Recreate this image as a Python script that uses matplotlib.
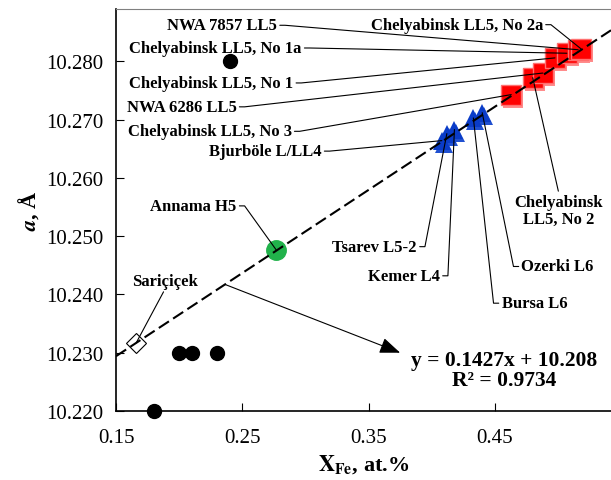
import matplotlib
matplotlib.use('Agg')
import matplotlib.pyplot as plt
from matplotlib.transforms import offset_copy

plt.rcParams['font.family'] = ['Liberation Serif', 'DejaVu Serif']
plt.rcParams['mathtext.fontset'] = 'stix'

# ---- data ----
black_x = [0.24, 0.20, 0.21, 0.23, 0.18]
black_y = [10.280, 10.230, 10.230, 10.230, 10.220]

sari_x, sari_y = 0.166, 10.2317
annama_x, annama_y = 0.277, 10.2476

tri_labels = ['Bjurböle L/LL4', 'Tsarev L5-2', 'Kemer L4', 'Bursa L6', 'Ozerki L6']
tri_x = [0.408, 0.412, 0.418, 0.433, 0.440]
tri_y = [10.2664, 10.2676, 10.2683, 10.2703, 10.2712]

sq_labels = ['Chelyabinsk LL5, No 3', 'Chelyabinsk LL5, No 2', 'NWA 6286 LL5',
             'Chelyabinsk LL5, No 1', 'Chelyabinsk LL5, No 1a', 'NWA 7857 LL5',
             'Chelyabinsk LL5, No 2a']
sq_x = [0.463, 0.480, 0.488, 0.4976, 0.507, 0.516, 0.518]
sq_y = [10.2743, 10.2772, 10.2780, 10.2806, 10.2814, 10.2820, 10.2822]

slope, intercept, r2 = 0.1427, 10.208, 0.9734

xticks = [0.15, 0.25, 0.35, 0.45]
yticks = [10.220, 10.230, 10.240, 10.250, 10.260, 10.270, 10.280]

# label anchor: text position, ha, relpos of leader, direction of the small hook
label_pos = {
    'NWA 7857 LL5': ((0.2775, 10.2862), 'right', (1, 0.5), 0),
    'Chelyabinsk LL5, No 1a': ((0.2970, 10.2823), 'right', (1, 0.5), 0),
    'Chelyabinsk LL5, No 1': ((0.2904, 10.2763), 'right', (1, 0.5), 0),
    'NWA 6286 LL5': ((0.2455, 10.2722), 'right', (1, 0.5), 0),
    'Chelyabinsk LL5, No 3': ((0.2891, 10.2680), 'right', (1, 0.5), 0),
    'Bjurböle L/LL4': ((0.3128, 10.2646), 'right', (1, 0.5), 0),
    'Chelyabinsk LL5, No 2a': ((0.4881, 10.2863), 'right', (1, 0.5), 0),
    'Chelyabinsk LL5, No 2': ((0.5008, 10.2544), 'center', (0.5, 1), None),
    'Tsarev L5-2': ((0.3883, 10.2482), 'right', (1, 0.5), 0),
    'Kemer L4': ((0.4065, 10.2432), 'right', (1, 0.5), 0),
    'Bursa L6': ((0.4553, 10.2385), 'left', (0, 0.5), 180),
    'Ozerki L6': ((0.4711, 10.2448), 'left', (0, 0.5), 180),
}

fig = plt.figure(figsize=(6.11, 4.81), dpi=100)
ax = fig.add_axes([0.1899, 0.1435, 0.8101, 0.8358])
ax.set_xlim(0.15, 0.542)
ax.set_ylim(10.220, 10.289)

shadow = offset_copy(ax.transData, fig=fig, x=2, y=-3, units='dots')

# markers
ax.plot(black_x, black_y, 'o', color='black', ms=10, zorder=3, clip_on=False)
ax.plot(sari_x, sari_y, 'D', mfc='white', mec='black', mew=0.8, ms=10, zorder=3)
ax.plot(annama_x, annama_y, 'o', color='#21b24b', ms=14, zorder=3)

ax.plot(sq_x, sq_y, 's', color='#ff8c8c', ms=14, mew=0, transform=shadow, zorder=3)
ax.plot(sq_x, sq_y, 's', mfc='#ff0000', mec='#ff7070', mew=1, ms=14, zorder=3)
ax.plot(tri_x, tri_y, '^', color='#2050d0', ms=13, mew=0, transform=shadow, zorder=3)
ax.plot(tri_x, tri_y, '^', color='#0a3cc8', ms=13, mew=0, zorder=3)

# regression line
lx = [0.15, 0.542]
ly = [slope * v + intercept for v in lx]
ax.plot(lx, ly, color='black', lw=1.5, dashes=(5.8, 2.4), zorder=4)

bold = dict(fontsize=12, fontweight='bold')


def leader(relpos, hook):
    d = dict(arrowstyle='-', lw=0.8, color='black', shrinkA=0, shrinkB=0, relpos=relpos)
    if hook is not None:
        d['connectionstyle'] = 'arc,angleA=%d,armA=8,armB=0,rad=0' % hook
    return d


for names, xs, ys in [(sq_labels, sq_x, sq_y), (tri_labels, tri_x, tri_y)]:
    for name, px, py in zip(names, xs, ys):
        (tx, ty), ha, rp, hook = label_pos[name]
        text = 'Chelyabinsk\nLL5, No 2' if name == 'Chelyabinsk LL5, No 2' else name
        ax.annotate(text, xy=(px, py), xytext=(tx, ty), ha=ha, va='center',
                    multialignment='center', linespacing=1.1,
                    arrowprops=leader(rp, hook), zorder=5, **bold)

ax.annotate('Annama H5', xy=(annama_x, annama_y), xytext=(0.2455, 10.2552),
            ha='right', va='center', arrowprops=leader((1, 0.5), 0),
            zorder=5, **bold)
ax.annotate('Sariçiçek', xy=(sari_x, sari_y), xytext=(0.1888, 10.2423),
            ha='center', va='center', arrowprops=leader((0.5, 0), None),
            zorder=5, **bold)

# equation and arrow
ax.annotate('', xy=(0.375, 10.2300), xytext=(0.2363, slope * 0.2363 + intercept),
            arrowprops=dict(arrowstyle='-|>,head_length=0.9,head_width=0.35',
                            lw=0.8, color='black', shrinkA=0, shrinkB=0,
                            mutation_scale=14), zorder=5)
ax.text(0.4572, 10.2271, 'y = %.4fx + %.3f\nR² = %.4f' % (slope, intercept, r2),
        ha='center', va='center', fontsize=15.5, fontweight='bold', linespacing=1.0)

# axes styling
ax.set_xticks(xticks)
ax.set_xticklabels(['%.2f' % v for v in xticks])
ax.set_yticks(yticks)
ax.set_yticklabels(['%.3f' % v for v in yticks])
ax.tick_params(direction='in', length=5.5, width=0.8, labelsize=15)
ax.tick_params(axis='x', pad=12)
ax.tick_params(axis='y', pad=9)
ax.spines['right'].set_visible(False)
ax.spines['top'].set_color('#808080')
ax.spines['left'].set_linewidth(1.2)
ax.spines['bottom'].set_linewidth(1.2)

ax.set_xlabel(r'$\mathbf{X_{Fe}}$, at.%', fontsize=16, fontweight='bold', labelpad=4)
ax.set_ylabel(r'$\mathbfit{a}$, Å', fontsize=16, fontweight='bold', labelpad=4)

fig.savefig('out.png', dpi=100)
